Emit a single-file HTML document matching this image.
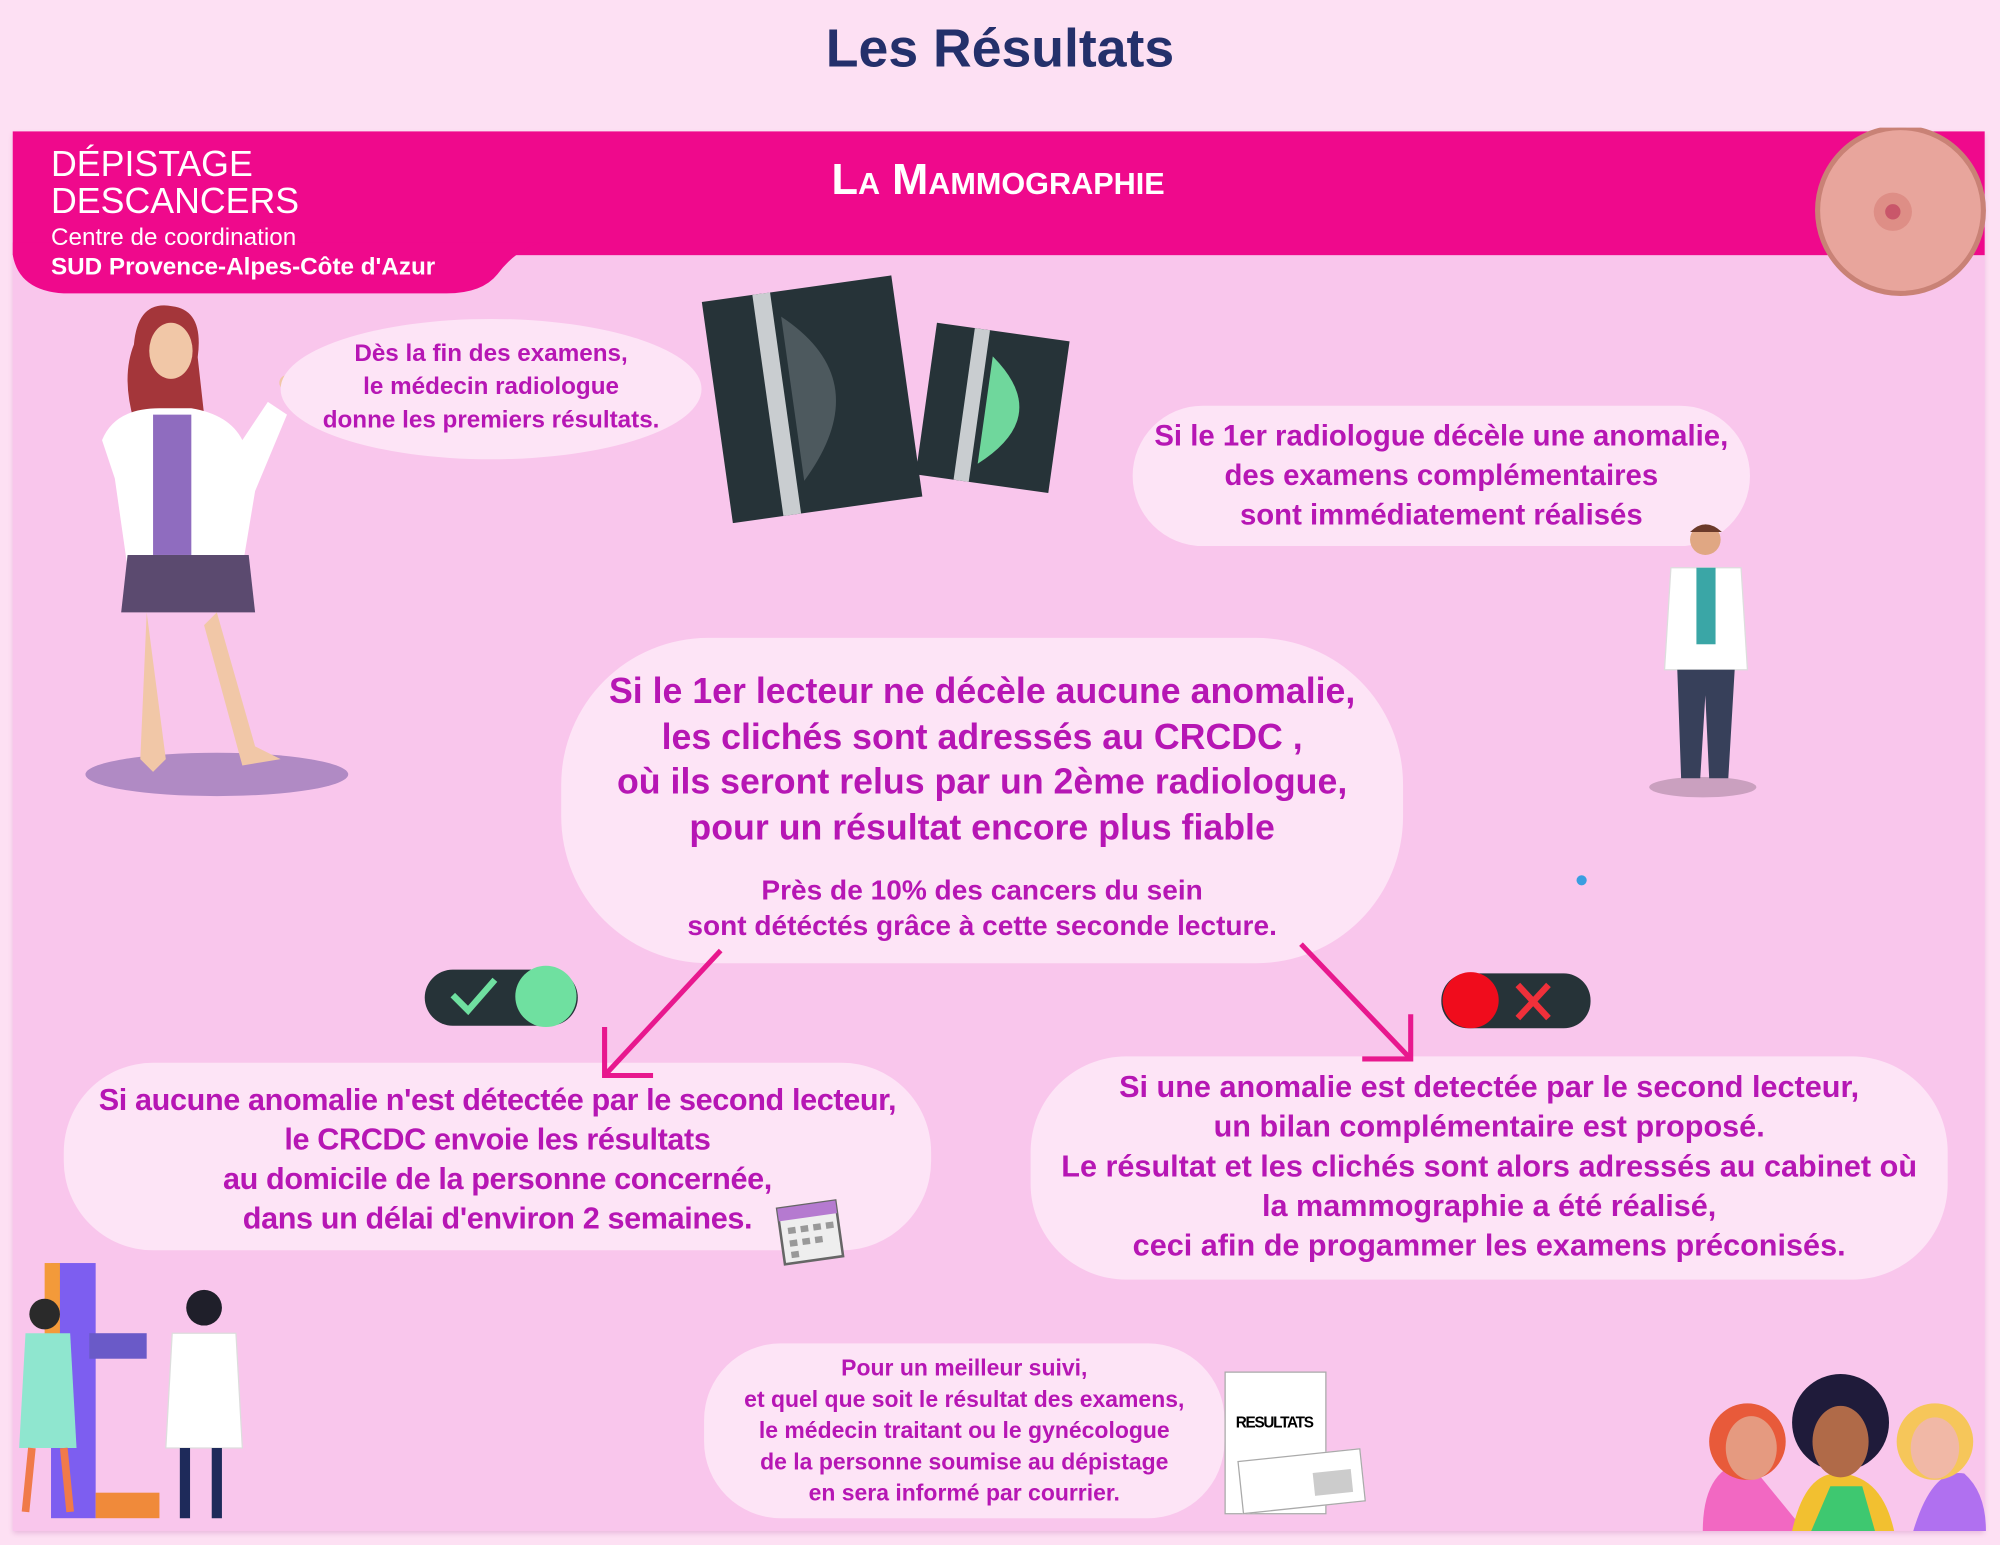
<!DOCTYPE html>
<html><head><meta charset="utf-8"><style>
html,body{margin:0;padding:0;width:2000px;height:1545px;overflow:hidden;background:#fde0f3;}
#s{position:absolute;left:0;top:0;width:1568px;height:1211px;transform:scale(1.2755,1.2758);transform-origin:0 0;font-family:"Liberation Sans Narrow","Liberation Sans",sans-serif;}
.a{position:absolute;}
.t{color:#b616b4;text-align:center;font-weight:bold;position:absolute;}
.b{position:absolute;background:#fde4f6;}
</style></head><body><div id="s">
<div class="a" style="left:0;top:14px;width:1568px;text-align:center;font:bold 42px 'Liberation Sans',sans-serif;color:#24306b;">Les Résultats</div>
<div class="a" style="left:10px;top:103px;width:1546px;height:1097px;background:#f9c6ec;box-shadow:0 2px 4px #e8b8dc;"></div>
<div class="a" style="left:10px;top:103px;width:1546px;height:97px;background:#ef098c;"></div>
<svg class="a" style="left:10px;top:190px" width="420" height="45"><path d="M0 0 H415 Q395 5 380 25 Q368 40 340 40 H40 Q5 38 0 10 Z" fill="#ef098c"/></svg>
<div class="a" style="left:40px;top:114px;color:#fff;font:28px 'Liberation Sans Narrow','Liberation Sans',sans-serif;line-height:29px;">DÉPISTAGE<br>DES<b style="font-weight:normal">CANCERS</b></div>
<div class="a" style="left:40px;top:176px;color:#fff;font:19px 'Liberation Sans Narrow',sans-serif;">Centre de coordination</div>
<div class="a" style="left:40px;top:199px;color:#fff;font:bold 19px 'Liberation Sans Narrow',sans-serif;">SUD Provence-Alpes-Côte d'Azur</div>
<div class="a" style="left:560px;top:122px;width:445px;text-align:center;color:#fff;font:bold 34px 'Liberation Sans',sans-serif;font-variant:small-caps;">La Mammographie</div>
<svg class="a" style="left:1420px;top:100px" width="140" height="140"><circle cx="70" cy="65" r="65" fill="#e8a59c" stroke="#c98276" stroke-width="4"/><circle cx="64" cy="66" r="15" fill="#de8e86"/><circle cx="64" cy="66" r="6" fill="#c9566a"/></svg>
<svg class="a" style="left:50px;top:235px" width="240" height="390">
<ellipse cx="120" cy="372" rx="103" ry="17" fill="#b08ac4"/>
<path d="M55 35 Q58 0 85 5 Q110 8 105 45 L110 90 L55 95 Q45 60 55 35Z" fill="#a4363a"/>
<ellipse cx="84" cy="40" rx="17" ry="22" fill="#f1c7a7"/>
<path d="M30 110 Q40 85 75 85 L100 85 Q130 90 140 110 L160 80 L175 90 L150 150 L140 210 L50 210 L40 140Z" fill="#fff"/>
<rect x="70" y="90" width="30" height="110" fill="#8f6cbf"/>
<path d="M50 200 L145 200 L150 245 L45 245Z" fill="#5b4a6f"/>
<path d="M65 245 L80 360 L70 370 L60 360 Z M120 245 L150 350 L170 360 L140 365 L110 255Z" fill="#f1c7a7"/>
<circle cx="175" cy="65" r="6" fill="#f1c7a7"/>
</svg>
<div class="b" style="left:220px;top:250px;width:330px;height:110px;border-radius:50%;"></div>
<div class="t" style="left:220px;top:265px;width:330px;font-size:19px;line-height:26px;">Dès la fin des examens,<br>le médecin radiologue<br>donne les premiers résultats.</div>
<svg class="a" style="left:550px;top:215px" width="295" height="195">
<g transform="rotate(-8 90 100)"><rect x="12" y="10" width="150" height="175" fill="#263338"/><rect x="52" y="10" width="14" height="175" fill="#c9cdd0"/><path d="M72 30 Q140 90 72 160Z" fill="#4d595e"/></g>
<g transform="rotate(8 230 110)"><rect x="175" y="45" width="105" height="120" fill="#263338"/><rect x="205" y="45" width="12" height="120" fill="#c9cdd0"/><path d="M222 65 Q275 105 222 150Z" fill="#6fd79c"/></g>
</svg>
<div class="b" style="left:888px;top:318px;width:484px;height:110px;border-radius:55px;"></div>
<div class="t" style="left:888px;top:326px;width:484px;font-size:23px;line-height:31px;">Si le 1er radiologue décèle une anomalie,<br>des examens complémentaires<br>sont immédiatement réalisés</div>
<svg class="a" style="left:1290px;top:405px" width="100" height="225">
<ellipse cx="45" cy="212" rx="42" ry="8" fill="#caa0bf"/>
<circle cx="47" cy="18" r="12" fill="#e0a783"/><path d="M35 12 Q47 0 60 12Z" fill="#6b3a2a"/>
<path d="M20 40 L75 40 L80 120 L15 120Z" fill="#fff" stroke="#ddd"/>
<rect x="40" y="40" width="15" height="60" fill="#3aa6a6"/>
<path d="M25 120 L70 120 L65 205 L50 205 L47 140 L43 205 L28 205Z" fill="#37405a"/>
</svg>
<div class="b" style="left:440px;top:500px;width:660px;height:255px;border-radius:115px;"></div>
<div class="t" style="left:440px;top:524px;width:660px;font-size:28px;line-height:35.5px;">Si le 1er lecteur ne décèle aucune anomalie,<br>les clichés sont adressés au CRCDC ,<br>où ils seront relus par un 2ème radiologue,<br>pour un résultat encore plus fiable</div>
<div class="t" style="left:440px;top:684px;width:660px;font-size:22px;line-height:28px;">Près de 10% des cancers du sein<br>sont détéctés grâce à cette seconde lecture.</div>
<div class="a" style="left:1236px;top:686px;width:8px;height:8px;border-radius:50%;background:#3a9ee0;"></div>
<div class="b" style="left:50px;top:833px;width:680px;height:147px;border-radius:70px;"></div>
<div class="t" style="left:50px;top:847px;width:680px;font-size:24px;line-height:31px;letter-spacing:-0.3px;">Si aucune anomalie n'est détectée par le second lecteur,<br>le CRCDC envoie les résultats<br>au domicile de la personne concernée,<br>dans un délai d'environ 2 semaines.</div>
<svg class="a" style="left:606px;top:936px" width="58" height="58"><g transform="rotate(-8 29 29)"><rect x="6" y="8" width="46" height="44" fill="#eee" stroke="#666" stroke-width="2"/><rect x="6" y="8" width="46" height="10" fill="#b57ad0"/><g fill="#999"><rect x="12" y="24" width="6" height="5"/><rect x="22" y="24" width="6" height="5"/><rect x="32" y="24" width="6" height="5"/><rect x="42" y="24" width="6" height="5"/><rect x="12" y="34" width="6" height="5"/><rect x="22" y="34" width="6" height="5"/><rect x="32" y="34" width="6" height="5"/><rect x="12" y="43" width="6" height="5"/></g></g></svg>
<div class="b" style="left:808px;top:828px;width:719px;height:175px;border-radius:75px;"></div>
<div class="t" style="left:808px;top:837px;width:719px;font-size:24px;line-height:31px;">Si une anomalie est detectée par le second lecteur,<br>un bilan complémentaire est proposé.<br>Le résultat et les clichés sont alors adressés au cabinet où<br>la mammographie a été réalisé,<br>ceci afin de progammer les examens préconisés.</div>
<svg class="a" style="left:0;top:0" width="1568" height="1211">
<g stroke="#e8188e" stroke-width="4" fill="none"><path d="M565 745 L474 843"/><path d="M474 805 L474 843 L512 843"/><path d="M1020 740 L1106 830"/><path d="M1106 795 L1106 830 L1068 830"/></g>
<rect x="333" y="760" width="120" height="44" rx="22" fill="#263338"/><circle cx="428" cy="781" r="24" fill="#6fe0a0"/><path d="M355 780 L367 792 L388 768" stroke="#6fe0a0" stroke-width="5" fill="none"/>
<rect x="1130" y="763" width="117" height="43" rx="21" fill="#263338"/><circle cx="1153" cy="784" r="22" fill="#f00c1c"/><path d="M1190 772 L1214 798 M1214 772 L1190 798" stroke="#f0303a" stroke-width="5"/>
</svg>
<div class="b" style="left:552px;top:1053px;width:408px;height:137px;border-radius:60px;"></div>
<div class="t" style="left:552px;top:1060px;width:408px;font-size:18px;line-height:24.5px;">Pour un meilleur suivi,<br>et quel que soit le résultat des examens,<br>le médecin traitant ou le gynécologue<br>de la personne soumise au dépistage<br>en sera informé par courrier.</div>
<div class="a" style="left:960px;top:1075px;width:78px;height:110px;background:#fff;border:1px solid #aaa;"></div>
<div class="a" style="left:960px;top:1108px;width:78px;text-align:center;font:bold 12px 'Liberation Sans Narrow',sans-serif;letter-spacing:-1px;">RESULTATS</div>
<div class="a" style="left:972px;top:1140px;width:95px;height:40px;background:#fff;border:1px solid #aaa;transform:rotate(-6deg);"></div>
<div class="a" style="left:1030px;top:1153px;width:30px;height:18px;background:#ccc;transform:rotate(-6deg);"></div>
<svg class="a" style="left:10px;top:985px" width="190" height="215">
<rect x="30" y="5" width="35" height="200" fill="#7d5ef0"/><rect x="25" y="5" width="12" height="60" fill="#f39a3a"/><rect x="60" y="60" width="45" height="20" fill="#6a5ac8"/><rect x="65" y="185" width="50" height="20" fill="#f08a3a"/>
<circle cx="25" cy="45" r="12" fill="#2a2a2a"/><path d="M10 60 L45 60 L50 150 L5 150Z" fill="#8fe6cf"/><path d="M15 150 L10 200 M40 150 L45 200" stroke="#f07a4a" stroke-width="6"/>
<circle cx="150" cy="40" r="14" fill="#1f1f2a"/><path d="M125 60 L175 60 L180 150 L120 150Z" fill="#fff" stroke="#ddd"/><path d="M135 150 L135 205 M160 150 L160 205" stroke="#1e2a5a" stroke-width="8"/>
</svg>
<svg class="a" style="left:1325px;top:1070px" width="232" height="130">
<path d="M10 130 Q10 80 45 75 L90 130Z" fill="#f268c2"/><circle cx="45" cy="60" r="30" fill="#e85a3a"/><ellipse cx="48" cy="65" rx="20" ry="25" fill="#e59a80"/>
<path d="M175 130 Q190 80 215 85 Q232 100 232 130Z" fill="#b070f0"/><circle cx="192" cy="60" r="30" fill="#f6c65a"/><ellipse cx="192" cy="65" rx="19" ry="24" fill="#f1b8a6"/>
<path d="M80 130 Q90 85 115 85 Q150 85 160 130Z" fill="#f2c030"/><path d="M95 130 L110 95 L135 95 L145 130Z" fill="#3ec870"/><circle cx="118" cy="45" r="38" fill="#1f1b3a"/><ellipse cx="118" cy="60" rx="22" ry="28" fill="#b06a48"/>
</svg>
</div></body></html>
